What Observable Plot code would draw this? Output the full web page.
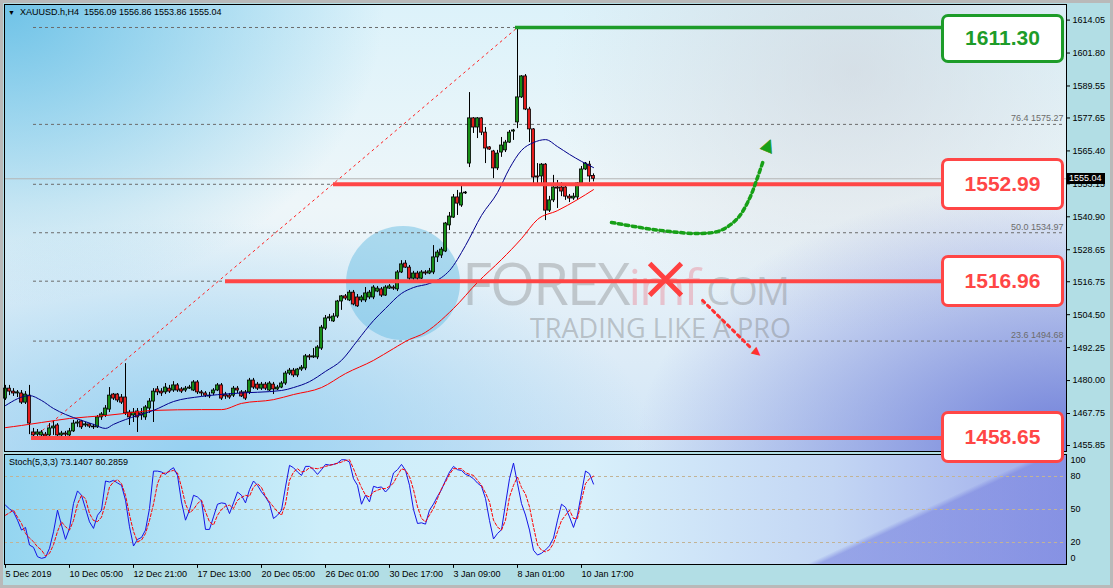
<!DOCTYPE html>
<html><head><meta charset="utf-8">
<script src="https://cdn.jsdelivr.net/npm/d3@7"></script>
<script src="https://cdn.jsdelivr.net/npm/@observablehq/plot@0.6"></script>
<style>
body{margin:0;background:#b0b0b0;}
#wrap{position:relative;width:1113px;height:588px;overflow:hidden;background:#b2dee5;box-shadow:inset 0 0 0 3px #b9b9b9;font-family:"Liberation Sans",Arial,sans-serif;}
#bgMain{position:absolute;left:4px;top:4px;width:1062px;height:447px;
 background:
  radial-gradient(ellipse 380px 300px at 0% 0%, rgba(105,192,230,0.95), rgba(105,192,230,0) 100%),
  radial-gradient(ellipse 430px 270px at 100% 100%, rgba(105,120,215,0.95), rgba(105,120,215,0) 100%),
  radial-gradient(ellipse 460px 230px at 18% 100%, rgba(140,205,240,0.85), rgba(140,205,240,0) 100%),
  radial-gradient(ellipse 300px 260px at 80% 15%, rgba(205,210,218,0.6), rgba(205,210,218,0) 100%),
  linear-gradient(180deg, #dcf2fa 0%, #eef6f9 45%, #d2e5f6 100%);}
#bgStoch{position:absolute;left:4px;top:454px;width:1062px;height:110px;
 background:
  linear-gradient(155deg, rgba(0,0,0,0) 80%, rgba(115,125,222,0.55) 81%),
  linear-gradient(90deg, #94d5f0 0%, #cdeefa 30%, #d8f0fb 55%, #c3d6f4 78%, #9eabea 100%);}
.wm{position:absolute;white-space:nowrap;font-family:"Open Sans",sans-serif;}
.wm span{line-height:0;}
.box{position:absolute;box-sizing:border-box;background:#fff;border-radius:7px;display:flex;align-items:center;justify-content:center;font-weight:bold;font-size:21px;font-family:"Liberation Sans",Arial,sans-serif;}
.lbl{position:absolute;font-size:9px;line-height:11px;white-space:nowrap;color:#000;}
</style></head><body>
<div id="wrap">
 <div id="bgMain"></div>
 <div id="bgStoch"></div>
 <div class="wm" style="left:346px;top:226px;width:114px;height:114px;border-radius:50%;background:rgba(105,190,228,0.5)"></div>
 <div class="wm" style="left:462px;top:258px;font-size:58px;line-height:50px;color:rgba(120,120,120,0.35);letter-spacing:-2px">FOREX<span style="font-size:50px;color:rgba(235,110,125,0.35)">imf</span><span style="font-size:38px">.COM</span></div>
 <div class="wm" style="left:530px;top:314px;font-size:27px;line-height:27px;color:rgba(120,120,120,0.4)">TRADING LIKE A PRO</div>
 <div id="stoch" style="position:absolute;left:0;top:452px"></div>
 <div id="main" style="position:absolute;left:0;top:0"></div>
 <div id="overlay"></div>
</div>
<script>
// ---------- data ----------
const symbolName = "XAUUSD.h,H4";
const stochName = "Stoch(5,3,3)";

const open = [
1473.3,1477.0,1475.9,1475.2,1475.2,1471.8,1474.4,1460.7,1459.9,1459.6,
1459.9,1459.6,1462.2,1463.3,1459.6,1460.3,1459.6,1461.1,1464.0,1464.8,
1463.3,1463.7,1462.9,1462.6,1466.3,1467.0,1469.2,1474.8,1474.8,1473.7,
1473.7,1468.1,1467.0,1468.5,1467.8,1466.3,1469.6,1472.2,1476.7,1475.9,
1475.6,1477.0,1476.3,1478.2,1476.7,1476.3,1477.0,1476.3,1479.3,1475.6,
1475.2,1474.4,1475.2,1476.3,1478.2,1474.8,1474.4,1474.4,1477.0,1475.6,
1475.6,1475.6,1480.0,1478.5,1477.0,1478.5,1476.3,1478.5,1476.7,1477.4,
1478.9,1482.6,1483.7,1481.9,1484.1,1484.5,1489.0,1488.6,1488.6,1491.9,
1499.3,1503.1,1502.0,1503.8,1509.4,1511.3,1509.8,1512.7,1510.9,1509.8,
1509.8,1510.9,1510.9,1513.1,1513.9,1511.6,1514.2,1514.6,1513.9,1520.2,
1523.5,1522.0,1517.9,1519.8,1517.9,1520.2,1519.8,1520.2,1525.8,1526.5,
1528.0,1537.7,1540.6,1548.1,1545.1,1549.6,1560.7,1577.5,1574.1,1577.5,
1572.2,1566.7,1565.2,1558.9,1564.8,1565.6,1568.5,1572.6,1576.0,1585.3,
1593.1,1580.8,1573.4,1555.9,1555.9,1560.3,1543.2,1547.0,1551.8,1551.8,
1551.8,1548.4,1547.7,1548.1,1553.3,1558.5,1560.3,1556.09];
const high = [
1478.2,1478.2,1477.0,1476.3,1476.3,1475.9,1478.2,1462.2,1461.8,1461.4,
1460.7,1464.0,1464.8,1464.0,1461.1,1461.1,1462.2,1465.2,1465.2,1465.2,
1464.4,1464.0,1463.7,1467.0,1468.1,1470.7,1477.4,1475.2,1475.2,1474.8,
1486.3,1468.9,1469.6,1469.6,1469.6,1470.7,1473.3,1477.0,1477.8,1477.0,
1478.9,1478.2,1479.6,1478.9,1477.4,1477.8,1478.2,1480.0,1480.0,1476.3,
1475.9,1475.6,1477.0,1478.9,1478.9,1475.6,1475.2,1477.8,1477.8,1476.3,
1476.3,1480.8,1480.8,1479.3,1479.3,1479.3,1479.6,1479.3,1478.2,1479.6,
1483.4,1484.5,1484.5,1484.5,1485.6,1489.7,1489.7,1491.9,1493.0,1500.5,
1504.2,1504.6,1504.9,1509.8,1511.6,1512.0,1513.5,1513.5,1512.0,1511.6,
1514.6,1513.5,1515.3,1515.0,1514.6,1515.3,1515.7,1515.3,1520.9,1524.6,
1524.6,1522.8,1520.6,1520.6,1520.9,1520.9,1521.7,1530.2,1528.4,1529.5,
1538.8,1542.5,1549.2,1550.7,1553.3,1550.3,1587.1,1577.8,1577.8,1577.8,
1574.1,1567.0,1565.6,1565.6,1570.4,1569.3,1573.0,1573.4,1611.30,1593.4,
1593.8,1581.6,1573.7,1560.7,1560.7,1560.7,1548.5,1556.3,1554.4,1553.6,
1552.5,1549.2,1549.6,1553.6,1559.6,1561.1,1561.5,1556.86];
const low = [
1472.6,1474.4,1474.1,1473.7,1471.1,1471.1,1459.9,1458.65,1459.2,1458.8,
1458.8,1458.8,1459.6,1458.8,1458.8,1459.2,1458.8,1460.7,1462.6,1461.8,
1462.6,1462.2,1461.8,1462.2,1465.2,1466.3,1468.1,1472.6,1471.8,1471.1,
1467.0,1463.3,1464.4,1460.7,1465.2,1465.2,1467.8,1464.4,1474.4,1474.1,
1474.8,1475.2,1475.6,1475.6,1475.2,1475.6,1476.7,1475.9,1474.8,1474.1,
1473.7,1473.3,1474.4,1475.9,1472.6,1473.0,1473.0,1473.7,1475.2,1473.7,
1472.6,1474.8,1476.7,1476.3,1476.3,1476.3,1475.9,1474.8,1476.3,1477.0,
1478.2,1481.9,1481.1,1481.1,1483.4,1483.7,1487.5,1488.2,1487.8,1491.2,
1498.6,1502.0,1501.6,1503.1,1506.1,1509.8,1509.4,1507.8,1507.2,1509.0,
1509.0,1510.1,1510.1,1512.7,1510.9,1511.3,1513.9,1513.5,1513.1,1519.8,
1521.7,1517.2,1516.8,1516.8,1517.6,1519.1,1519.4,1519.4,1523.9,1525.4,
1527.6,1535.8,1540.3,1541.4,1544.4,1549.2,1559.2,1571.9,1570.0,1571.1,
1560.7,1565.6,1555.1,1558.1,1563.0,1564.8,1568.2,1569.3,1573.7,1584.9,
1580.4,1568.5,1553.3,1553.3,1553.3,1539.5,1542.5,1546.2,1544.0,1548.4,
1547.0,1546.2,1547.0,1547.0,1552.2,1558.1,1553.7,1553.86];
const close = [
1477.0,1475.9,1475.2,1475.6,1471.8,1474.8,1464.0,1459.6,1460.7,1460.7,
1459.2,1462.2,1462.9,1459.6,1460.3,1459.9,1461.1,1464.0,1464.4,1462.6,
1463.7,1462.9,1462.6,1466.3,1467.4,1469.6,1474.4,1473.3,1472.6,1471.8,
1467.8,1466.3,1468.1,1466.3,1467.0,1470.0,1472.2,1475.9,1475.6,1475.2,
1477.4,1475.9,1478.2,1476.3,1475.9,1477.0,1477.4,1479.3,1475.6,1475.2,
1474.4,1474.1,1476.3,1478.2,1473.3,1474.1,1473.7,1477.0,1476.3,1474.1,
1473.3,1480.0,1477.4,1477.0,1478.5,1477.0,1478.9,1476.7,1477.4,1478.9,
1482.6,1483.7,1481.9,1484.1,1484.8,1489.0,1488.6,1489.0,1492.3,1499.7,
1503.1,1503.5,1503.8,1509.4,1511.3,1510.5,1512.7,1508.3,1507.6,1510.9,
1512.4,1512.7,1514.6,1514.2,1511.6,1514.6,1515.0,1514.2,1520.2,1523.2,
1522.0,1517.9,1519.8,1517.9,1520.2,1519.8,1520.6,1525.8,1527.6,1528.7,
1538.4,1541.0,1548.1,1545.8,1549.6,1549.9,1577.5,1574.1,1577.5,1572.2,
1566.3,1565.9,1558.9,1564.4,1567.4,1568.5,1572.2,1573.0,1585.3,1593.1,
1580.8,1573.4,1555.5,1555.5,1560.3,1543.2,1547.0,1551.8,1551.4,1550.3,
1548.4,1547.7,1548.4,1553.3,1558.5,1560.7,1555.9,1555.04];

// moving averages (bar index, price)
const maBlueIdx = [0,6,9,12,15,19,22,25,27,30,33,37,42,49,57,69,72,76,80,84,88,92,95,99,102,106,109,111,115,119,123,126,129,132,135,138,141,144,147];
const maBlue = [1470.7,1474.4,1472.6,1469.6,1467.4,1465.2,1463.7,1462.2,1463.7,1465.5,1467.0,1468.9,1472.2,1474.1,1475.2,1476.3,1477.4,1479.6,1483.4,1487.5,1494.9,1502.3,1506.8,1512.4,1514.6,1516.1,1518.3,1520.9,1530.2,1541.4,1549.9,1558.9,1565.6,1568.5,1569.6,1567.0,1564.1,1561.5,1559.2];
const maRedIdx = [0,4,9,16,25,30,37,49,54,59,67,72,79,85,92,97,101,104,112,118,124,129,133,138,143,147];
const maRed = [1462.5,1463.3,1464.4,1465.9,1467.0,1467.8,1468.9,1469.2,1469.2,1471.5,1472.9,1474.8,1477.4,1482.6,1487.5,1491.9,1495.3,1497.1,1506.8,1516.5,1525.0,1532.8,1539.9,1543.2,1547.3,1551.0];

// stochastic %K and %D, one value per bar
const stochK = [
53.9,50.5,47.9,40.3,31.3,33.7,17.7,15.6,7.1,5.6,
6.5,14.7,29.7,49.4,35.8,22.8,32.8,55.4,66.9,62.9,
50.9,38.8,32.8,44.8,49.4,75.9,75.0,76.5,74.1,72.0,
58.4,34.3,16.8,22.8,24.6,31.3,50.9,84.9,84.9,84.1,
81.9,85.6,88.0,81.0,56.9,40.3,49.4,62.9,61.4,57.8,
31.9,31.9,43.3,54.8,56.0,55.4,46.3,56.0,65.9,62.9,
56.0,68.1,75.9,72.0,66.0,61.4,55.4,41.8,44.8,49.4,
70.5,90.1,88.0,84.1,81.0,89.2,89.2,86.2,81.9,86.2,
91.0,90.4,91.0,92.2,95.2,95.2,93.1,78.0,72.0,54.8,
62.9,56.9,71.1,69.9,70.5,65.9,69.9,83.2,86.2,91.0,
85.6,72.0,50.0,37.3,37.9,36.7,49.4,55.0,62.0,68.0,
76.5,84.0,89.2,86.2,85.5,82.0,80.5,78.0,74.0,71.1,
60.0,40.0,23.2,28.2,31.6,55.0,78.0,92.2,73.5,55.4,
45.0,31.3,12.9,8.6,10.2,13.2,17.0,24.0,40.3,54.8,
52.0,43.3,33.7,45.0,65.0,85.0,82.5,73.1407];
const stochD = [
44.8,47.0,49.4,43.0,37.3,28.2,24.0,20.7,16.0,13.2,
7.7,10.1,18.0,30.0,38.8,34.3,31.3,40.0,55.0,62.9,
59.9,46.3,40.0,39.0,43.0,55.4,70.5,75.0,77.1,73.5,
62.9,45.0,30.0,20.7,22.2,28.2,40.0,55.0,73.5,82.5,
83.2,84.5,85.6,83.2,70.5,55.0,47.0,50.0,55.4,58.4,
47.9,38.8,35.8,44.8,50.0,53.0,53.9,50.9,58.4,61.0,
62.9,62.0,70.5,73.5,70.0,62.0,56.9,52.4,47.9,44.8,
55.0,76.5,84.0,87.1,84.1,85.0,88.0,87.5,87.1,88.0,
89.2,90.1,91.0,92.0,93.1,94.6,95.2,87.1,78.0,70.0,
63.0,61.4,66.0,67.5,69.0,69.0,71.0,74.0,81.0,87.1,
85.6,80.0,68.0,52.4,41.8,38.8,45.0,50.9,59.9,69.0,
75.0,82.0,87.1,87.1,87.1,83.5,82.0,81.0,76.5,72.0,
65.0,56.9,40.3,34.0,31.3,40.3,61.4,72.0,79.5,70.0,
64.0,52.4,34.3,17.7,13.0,11.6,13.4,19.2,29.8,40.0,
44.8,49.4,41.8,41.8,58.4,73.5,78.0,80.2859];
const stochLevels = [20, 50, 80];
const stochAxisTicks = [0, 20, 50, 80, 100];

// axes
const priceTicks = [1614.05,1601.80,1589.55,1577.65,1565.40,1553.15,1540.90,1528.65,1516.75,1504.50,1492.25,1480.00,1467.75,1455.85];
const dateTickIdx = [0,16,32,48,64,80,96,112,128,144];
const dateLabels = ["5 Dec 2019","10 Dec 05:00","12 Dec 21:00","17 Dec 13:00","20 Dec 05:00","26 Dec 01:00","30 Dec 17:00","3 Jan 09:00","8 Jan 01:00","10 Jan 17:00"];

// Fibonacci retracement (low bar 7 -> high bar 128)
const fibStartIdx = 7, fibEndIdx = 128;
const fibLevels = [0.0, 23.6, 38.2, 50.0, 61.8, 76.4, 100.0];
const fibPrices = [1458.65, 1494.68, 1516.96, 1534.97, 1552.99, 1575.27, 1611.30];

// key levels and the bar each line starts from
const levelPrices = [1611.30, 1552.99, 1516.96, 1458.65];
const levelStartIdx = [127.5, 82, 55, 6.5];

// scenario annotations (bar index, price)
const upPathIdx = [151.5, 158.75, 166.25, 173.75, 178.75, 183.0, 186.0, 188.0, 189.5];
const upPathPrice = [1538.8, 1536.9, 1535.4, 1534.7, 1535.8, 1540.3, 1547.7, 1555.5, 1562.0];
const upHead = {i: 190.75, price: 1567.6};
const downPathIdx = [174.25, 186.25];
const downPathPrice = [1509.8, 1492.3];
const downHead = {i: 188.0, price: 1490.1};
const crossMark = {i: 165, price: 1517.6};

// ---------- build ----------
const N = close.length;
const bars = d3.range(N).map(i => ({i, open: open[i], high: high[i], low: low[i], close: close[i]}));
const blueMA = maBlueIdx.map((i, j) => ({i, v: maBlue[j]}));
const redMA = maRedIdx.map((i, j) => ({i, v: maRed[j]}));
const fibs = fibLevels.map((l, j) => ({level: l, price: fibPrices[j]}));
const levels = levelPrices.map((p, j) => ({price: p, from: levelStartIdx[j]}));
const upPath = upPathIdx.map((i, j) => ({i, price: upPathPrice[j]}));
const downPath = downPathIdx.map((i, j) => ({i, price: downPathPrice[j]}));
const stoch = d3.range(N).map(i => ({i, k: stochK[i], d: stochD[i]}));

const xDomain = [-0.25, 265.25];
const yDomain = [1453.62, 1619.85];
const lastClose = close[N - 1];
const fibHigh = fibPrices[fibPrices.length - 1];
const levelEndIdx = 250;
// fib labels that are not hidden behind a level box
const fibVisible = fibs.filter(f => !levelPrices.includes(f.price));

const GREEN = "#1d9c29", RED = "#ff4646";
const font = {background: "transparent", overflow: "visible", fontFamily: "'Liberation Sans', Arial, sans-serif", fontSize: "9px", color: "#000"};

const mainPlot = Plot.plot({
  width: 1113, height: 452,
  marginLeft: 4, marginRight: 47, marginTop: 4, marginBottom: 1,
  style: font,
  x: {domain: xDomain, axis: null},
  y: {domain: yDomain, axis: "right", ticks: priceTicks, tickFormat: d => d.toFixed(2), tickSize: 3, tickPadding: 3, label: null},
  marks: [
    Plot.ruleY([lastClose], {stroke: "#b4b4b4", strokeWidth: 1}),
    Plot.ruleY(fibs, {y: "price", x1: () => fibStartIdx, x2: () => xDomain[1] - 0.75, stroke: "#6c6c6c", strokeDasharray: "3,3"}),
    Plot.text(fibVisible, {y: "price", text: d => `${d.level.toFixed(1)} ${d.price.toFixed(2)}`, frameAnchor: "right", textAnchor: "end", dx: -3, dy: -6, fill: "#6c6c6c", fontSize: 9}),
    Plot.line([{i: fibStartIdx, price: fibPrices[0]}, {i: fibEndIdx, price: fibHigh}], {x: "i", y: "price", stroke: "#ff2020", strokeWidth: 1, strokeDasharray: "2,4"}),
    Plot.ruleX(bars, {x: "i", y1: "low", y2: "high", stroke: "#000", strokeWidth: 1}),
    Plot.rect(bars, {filter: d => d.close >= d.open, x1: d => d.i - 0.375, x2: d => d.i + 0.375, y1: "open", y2: "close", fill: "#178f17", stroke: "#000", strokeWidth: 0.8}),
    Plot.rect(bars, {filter: d => d.close < d.open, x1: d => d.i - 0.375, x2: d => d.i + 0.375, y1: "open", y2: "close", fill: "#e51c1c", stroke: "#000", strokeWidth: 0.8}),
    Plot.line(redMA, {x: "i", y: "v", stroke: "#ff0000", strokeWidth: 1, curve: "monotone-x"}),
    Plot.line(blueMA, {x: "i", y: "v", stroke: "#00008c", strokeWidth: 1, curve: "monotone-x"}),
    Plot.ruleY(levels, {filter: d => d.price !== fibHigh, y: "price", x1: "from", x2: () => levelEndIdx, stroke: RED, strokeWidth: 4}),
    Plot.ruleY(levels, {filter: d => d.price === fibHigh, y: "price", x1: "from", x2: () => levelEndIdx, stroke: GREEN, strokeWidth: 3.5}),
    Plot.line(upPath, {x: "i", y: "price", stroke: "#17a017", strokeWidth: 3.5, strokeDasharray: "3.5,3.5", curve: "catmull-rom"}),
    Plot.text([upHead], {x: "i", y: "price", text: () => "▲", rotate: 22, fill: "#17a017", stroke: "#0d7a0d", strokeWidth: 0.6, fontSize: 21}),
    Plot.line(downPath, {x: "i", y: "price", stroke: "#ff3030", strokeWidth: 3, strokeDasharray: "3,4"}),
    Plot.text([downHead], {x: "i", y: "price", text: () => "▲", rotate: 130, fill: "#ff3030", fontSize: 15}),
    Plot.dot([crossMark], {x: "i", y: "price", symbol: "times", r: 14.5, stroke: "#ff4040", strokeWidth: 5}),
    Plot.frame({stroke: "#000"})
  ]
});
document.getElementById("main").append(mainPlot);

const stochPlot = Plot.plot({
  width: 1113, height: 136,
  marginLeft: 4, marginRight: 47, marginTop: 2, marginBottom: 24,
  style: font,
  x: {domain: xDomain, axis: null},
  y: {domain: [0, 100], axis: null},
  marks: [
    Plot.ruleY(stochLevels, {y: d => d, stroke: "#c2b395", strokeDasharray: "3,3"}),
    Plot.line(stoch, {x: "i", y: "k", stroke: "#1414e6", strokeWidth: 1}),
    Plot.line(stoch, {x: "i", y: "d", stroke: "#ff0000", strokeWidth: 1, strokeDasharray: "3,2"}),
    Plot.frame({stroke: "#000"}),
    Plot.text(stochAxisTicks, {filter: d => d > 0 && d < 100, y: d => d, text: d => String(d), frameAnchor: "right", textAnchor: "start", dx: 4}),
    Plot.text(stochAxisTicks, {filter: d => d === 100, y: d => d, text: d => String(d), frameAnchor: "right", textAnchor: "start", dx: 4, dy: 6}),
    Plot.text(stochAxisTicks, {filter: d => d === 0, y: d => d, text: d => String(d), frameAnchor: "right", textAnchor: "start", dx: 4, dy: -6}),
    Plot.ruleX(dateTickIdx, {x: d => d, y1: () => 0, y2: () => -3.5, stroke: "#000"}),
    Plot.text(dateTickIdx, {x: d => d, text: (d, j) => dateLabels[j], frameAnchor: "bottom", textAnchor: "start", dy: 12})
  ]
});
document.getElementById("stoch").append(stochPlot);

// ---------- HTML overlays positioned with the same y scale ----------
const yS = d3.scaleLinear().domain(yDomain).range([451, 4]);
const ov = document.getElementById("overlay");
function add(html){ ov.insertAdjacentHTML("beforeend", html); }
levels.forEach(d => {
  const green = d.price === fibHigh;
  const c = green ? GREEN : RED;
  const h = green ? 49 : 52;
  const top = green ? yS(d.price) - 13 : yS(d.price) - h / 2;
  add(`<div class="box" style="left:941px;top:${top}px;width:123px;height:${h}px;border:3.5px solid ${c};color:${c}">${d.price.toFixed(2)}</div>`);
});
add(`<div class="lbl" style="left:1066px;top:${yS(lastClose) - 5.5}px;height:11px;width:39px;background:#000;color:#fff;padding-left:3px;box-sizing:border-box">${lastClose.toFixed(2)}</div>`);
add(`<div class="lbl" style="left:8px;top:7px"><span style="font-size:7px">▼</span>&nbsp; ${symbolName}&nbsp; ${open[N-1].toFixed(2)} ${high[N-1].toFixed(2)} ${low[N-1].toFixed(2)} ${close[N-1].toFixed(2)}</div>`);
add(`<div class="lbl" style="left:9px;top:457px">${stochName} ${stochK[N-1].toFixed(4)} ${stochD[N-1].toFixed(4)}</div>`);
</script>
</body></html>
